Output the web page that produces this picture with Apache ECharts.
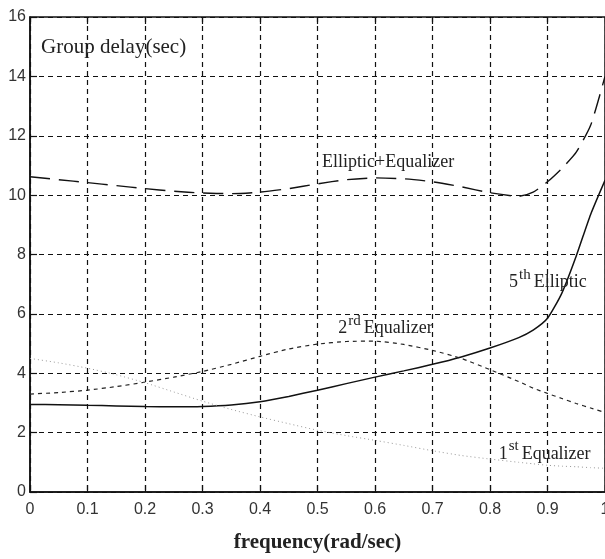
<!DOCTYPE html>
<html>
<head>
<meta charset="utf-8">
<script src="https://cdn.jsdelivr.net/npm/echarts@6/dist/echarts.min.js"></script>
<style>
  html, body { margin: 0; padding: 0; background: #fff; }
  #main { width: 605px; height: 559px; }
</style>
</head>
<body>
<div id="main"></div>
<script>
// frequency points (rad/sec)
var freq = [0, 0.05, 0.1, 0.15, 0.2, 0.25, 0.3, 0.35, 0.4, 0.45, 0.5, 0.55, 0.6, 0.65, 0.7, 0.75, 0.8, 0.85, 0.875, 0.9, 0.925, 0.95, 0.975, 1.0];

// group delay (sec)
var ellipticEq = [10.62, 10.52, 10.42, 10.32, 10.22, 10.13, 10.07, 10.05, 10.1, 10.22, 10.38, 10.52, 10.58, 10.55, 10.45, 10.28, 10.08, 9.96, 10.1, 10.45, 10.9, 11.45, 12.35, 14.0];
var elliptic5 = [2.95, 2.94, 2.92, 2.9, 2.88, 2.87, 2.88, 2.93, 3.04, 3.22, 3.43, 3.65, 3.87, 4.08, 4.3, 4.55, 4.85, 5.2, 5.45, 5.85, 6.7, 7.95, 9.35, 10.5];
var equalizer2 = [3.3, 3.35, 3.43, 3.55, 3.7, 3.87, 4.06, 4.3, 4.57, 4.82, 4.98, 5.07, 5.08, 4.97, 4.77, 4.5, 4.12, 3.72, 3.5, 3.32, 3.15, 2.98, 2.83, 2.68];
var equalizer1 = [4.5, 4.35, 4.17, 3.95, 3.68, 3.37, 3.06, 2.78, 2.53, 2.3, 2.08, 1.9, 1.74, 1.57, 1.39, 1.23, 1.11, 1.0, 0.95, 0.9, 0.87, 0.85, 0.82, 0.8];

function pairs(ys) {
    return freq.map(function (x, i) { return [x, ys[i]]; });
}

var serif = 'Liberation Serif, Times New Roman, serif';
var sans = 'Liberation Sans, Arial, sans-serif';

function note(coord, fmt) {
    return {
        symbol: 'circle',
        symbolSize: 0,
        silent: true,
        label: {
            show: true,
            position: [0, 0],
            align: 'left',
            verticalAlign: 'middle',
            formatter: fmt,
            color: '#222',
            fontFamily: serif,
            rich: {
                b: { fontSize: 18, fontFamily: serif, color: '#222', verticalAlign: 'bottom', lineHeight: 24 },
                s: { fontSize: 15, fontFamily: serif, color: '#222', verticalAlign: 'top', lineHeight: 24, padding: [0, 3, 0, 1] }
            }
        },
        data: [{ coord: coord }]
    };
}

var myChart = echarts.init(document.getElementById('main'));
var option = {
    animation: false,
    backgroundColor: '#fff',
    title: {
        text: 'Group delay(sec)',
        left: 36,
        top: 32,
        textStyle: { fontFamily: serif, fontSize: 21, fontWeight: 'normal', color: '#222' }
    },
    grid: {
        left: 30, right: 0, top: 17, bottom: 67,
        outerBoundsMode: 'none',
        show: true, borderColor: '#111', borderWidth: 1.5
    },
    xAxis: [{
        type: 'value', min: 0, max: 1, interval: 0.1,
        name: 'frequency(rad/sec)', nameLocation: 'middle', nameGap: 40,
        nameTextStyle: { fontFamily: serif, fontSize: 21, fontWeight: 'bold', color: '#222' },
        axisLine: { show: true, lineStyle: { color: '#111', width: 1.5 } },
        axisTick: { show: true, inside: true, length: 7, lineStyle: { color: '#111', width: 1.2 } },
        axisLabel: {
            margin: 10, fontFamily: sans, fontSize: 16, color: '#333',
            formatter: function (v) { return String(Number(v.toFixed(1))); }
        },
        splitLine: { show: true, lineStyle: { color: '#111', type: [5, 4], width: 1.2 } }
    }, {
        type: 'value', min: 0, max: 1, interval: 0.1, position: 'top',
        axisLine: { show: false },
        axisTick: { show: true, inside: true, length: 7, lineStyle: { color: '#111', width: 1.2 } },
        axisLabel: { show: false },
        splitLine: { show: false }
    }],
    yAxis: {
        type: 'value', min: 0, max: 16, interval: 2,
        axisLine: { show: true, lineStyle: { color: '#111', width: 1.5 } },
        axisTick: { show: true, inside: true, length: 7, lineStyle: { color: '#111', width: 1.2 } },
        axisLabel: { margin: 4, fontFamily: sans, fontSize: 16, color: '#333' },
        splitLine: { show: true, lineStyle: { color: '#111', type: [5, 4], width: 1.2 } }
    },
    series: [
        {
            name: 'Elliptic+Equalizer', type: 'line', data: pairs(ellipticEq),
            showSymbol: false, smooth: 0.2,
            lineStyle: { color: '#111', width: 1.4, type: [20, 9] },
            markPoint: note([0.508, 11.2], '{b|Elliptic+Equalizer}')
        },
        {
            name: '5th Elliptic', type: 'line', data: pairs(elliptic5),
            showSymbol: false, smooth: 0.2,
            lineStyle: { color: '#111', width: 1.5 },
            markPoint: note([0.833, 7.15], '{b|5}{s|th}{b|Elliptic}')
        },
        {
            name: '2rd Equalizer', type: 'line', data: pairs(equalizer2),
            showSymbol: false, smooth: 0.2,
            lineStyle: { color: '#222', width: 1.2, type: [4, 4] },
            markPoint: note([0.536, 5.6], '{b|2}{s|rd}{b|Equalizer}')
        },
        {
            name: '1st Equalizer', type: 'line', data: pairs(equalizer1),
            showSymbol: false, smooth: 0.2,
            lineStyle: { color: '#999', width: 1, type: [1, 3] },
            markPoint: note([0.815, 1.38], '{b|1}{s|st}{b|Equalizer}')
        }
    ]
};

myChart.setOption(option);
</script>
</body>
</html>
